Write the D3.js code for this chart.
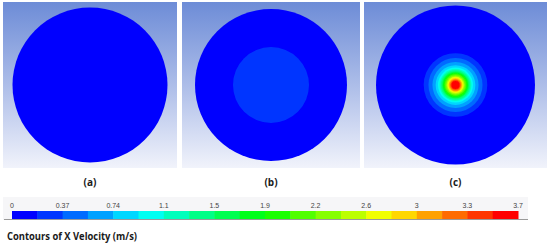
<!DOCTYPE html>
<html>
<head>
<meta charset="utf-8">
<script src="https://cdn.jsdelivr.net/npm/d3@7"></script>
<style>
  html, body { margin: 0; padding: 0; background: #fff; }
  svg { display: block; }
</style>
</head>
<body>
<div id="chart"></div>
<script>
// Contours of X velocity in three pipe cross-sections, Fluent style

// colour bar levels (20 bands) and tick labels
const bandCount = 20;
const tickLabels = ['0', '0.37', '0.74', '1.1', '1.5', '1.9', '2.2', '2.6', '3', '3.3', '3.7'];

// panel captions
const captions = ['(a)', '(b)', '(c)'];

// filled regions inside each section: band index and outer radius (fraction of pipe radius)
const bandsA = [];
const radiiA = [];
const bandsB = [1];
const radiiB = [0.5];
const bandsC = [1, 2, 3, 4, 5, 6, 7, 8, 9, 10, 11, 12, 13, 14, 15, 16, 17, 18, 19];
const radiiC = [0.40, 0.34, 0.29, 0.25, 0.22, 0.20, 0.185, 0.17, 0.158, 0.146,
                0.134, 0.122, 0.11, 0.10, 0.09, 0.08, 0.07, 0.06, 0.05];

const W = 550, H = 244;

// Fluent-like blue -> cyan -> green -> yellow -> red map
const colorMap = d3.scaleLinear()
    .domain([0, 0.25, 0.5, 0.75, 1])
    .range(['#0000ff', '#00ffff', '#00ff00', '#ffff00', '#ff0000']);
const bandColor = i => colorMap(i / (bandCount - 1));

const svg = d3.select('#chart').append('svg')
    .attr('width', W)
    .attr('height', H);

const defs = svg.append('defs');
const bg = defs.append('linearGradient')
    .attr('id', 'panel-bg')
    .attr('x1', 0).attr('y1', 0).attr('x2', 0).attr('y2', 1);
bg.append('stop').attr('offset', '0%').attr('stop-color', '#6d8cd7');
bg.append('stop').attr('offset', '55%').attr('stop-color', '#b3c2ea');
bg.append('stop').attr('offset', '100%').attr('stop-color', '#f1f3fb');

// soften the contour edges a little, like the rendered original
defs.append('filter')
    .attr('id', 'soft')
    .append('feGaussianBlur')
    .attr('stdDeviation', 0.7);

// panel layout
const panels = [
  { x0: 3, x1: 177, r: 77.5, bands: bandsA, radii: radiiA },
  { x0: 182, x1: 360, r: 76, bands: bandsB, radii: radiiB },
  { x0: 364, x1: 547, r: 79.5, bands: bandsC, radii: radiiC }
];
const panelTop = 2, panelBottom = 168;

panels.forEach((p, k) => {
  const cx = (p.x0 + p.x1) / 2;
  const cy = (panelTop + panelBottom) / 2;
  const g = svg.append('g');

  g.append('rect')
      .attr('x', p.x0)
      .attr('y', panelTop)
      .attr('width', p.x1 - p.x0)
      .attr('height', panelBottom - panelTop)
      .attr('fill', 'url(#panel-bg)');

  const rScale = d3.scaleLinear().domain([0, 1]).range([0, p.r]);

  // pipe wall, lowest band
  g.append('circle')
      .attr('cx', cx).attr('cy', cy)
      .attr('r', rScale(1))
      .attr('fill', bandColor(0));

  g.append('g')
      .attr('filter', 'url(#soft)')
      .selectAll('.ring')
      .data(p.bands.map((b, i) => ({ band: b, r: p.radii[i] })))
      .enter()
      .append('circle')
      .attr('class', 'ring')
      .attr('cx', cx).attr('cy', cy)
      .attr('r', d => rScale(d.r))
      .attr('fill', d => bandColor(d.band));

  svg.append('text')
      .attr('x', cx)
      .attr('y', 185.5)
      .attr('text-anchor', 'middle')
      .style('font-family', '"Open Sans", sans-serif')
      .style('font-weight', 'bold')
      .style('font-size', '10px')
      .attr('fill', '#1a1a1a')
      .text(captions[k]);
});

// colour bar
const barX0 = 12, barX1 = 518, barY = 211, barH = 8;
const bandScale = d3.scaleBand()
    .domain(d3.range(bandCount))
    .range([barX0, barX1])
    .paddingInner(0);

svg.append('rect')
    .attr('x', 3).attr('y', 197)
    .attr('width', 525).attr('height', 23)
    .attr('fill', '#f6f6f8');

svg.selectAll('.band')
    .data(d3.range(bandCount))
    .enter()
    .append('rect')
    .attr('class', 'band')
    .attr('x', d => bandScale(d))
    .attr('y', barY)
    .attr('width', bandScale.bandwidth() + 0.5)
    .attr('height', barH)
    .attr('fill', d => bandColor(d));

svg.append('line')
    .attr('x1', 4).attr('x2', 528)
    .attr('y1', 219.5).attr('y2', 219.5)
    .attr('stroke', '#9a9a9a')
    .attr('stroke-width', 1);

const tickScale = d3.scalePoint()
    .domain(tickLabels)
    .range([barX0, barX1]);

svg.selectAll('.tick-label')
    .data(tickLabels)
    .enter()
    .append('text')
    .attr('class', 'tick-label')
    .attr('x', d => tickScale(d))
    .attr('y', 207.5)
    .attr('text-anchor', 'middle')
    .style('font-family', '"Liberation Sans", Arial, sans-serif')
    .style('font-size', '7px')
    .attr('fill', '#444')
    .text(d => d);

// title
svg.append('text')
    .attr('x', 7)
    .attr('y', 240)
    .attr('textLength', 130)
    .attr('lengthAdjust', 'spacingAndGlyphs')
    .style('font-family', '"Open Sans", sans-serif')
    .style('font-weight', 'bold')
    .style('font-size', '10px')
    .attr('fill', '#1a1a1a')
    .text('Contours of X Velocity (m/s)');
</script>
</body>
</html>
